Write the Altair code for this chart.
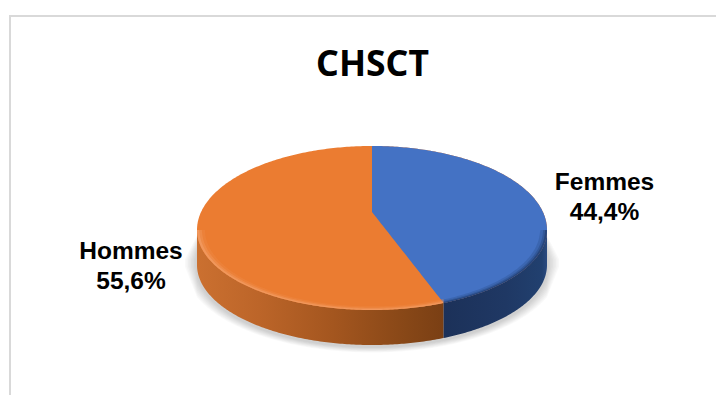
import altair as alt
import numpy as np
import pandas as pd

# ---- chart content
TITLE = "CHSCT"
CATEGORIES = ["Femmes", "Hommes"]
SHARES = [44.4, 55.6]
FILLS = ["#4472C4", "#EB7C31"]

# ---- page layout (pixels inside the plot area)
W, H = 708, 387
CX, CY, RX = 364, 222, 175          # centre of the rim ellipse and its half width
UP, LOW = 84 / RX, 80 / RX          # half heights, the far half being seen larger
DEPTH = 35 / RX
APEX = 18 / RX                      # pie centre appears above the ellipse centre
TILT_DEG = -4                       # perspective shift of the slice boundary

end = np.radians(SHARES[0] * 3.6 + TILT_DEG)
xe, ye = float(np.sin(end)), float(np.cos(end) * LOW)

XS = alt.Scale(domain=[-CX / RX, (W - CX) / RX], nice=False, zero=False)
YS = alt.Scale(domain=[-(H - CY) / RX, CY / RX], nice=False, zero=False)


def samples(a, b, n=240):
    t = np.linspace(np.pi, 0, n + 1)
    xs = np.cos(t)
    xs = xs[(xs >= a - 1e-9) & (xs <= b + 1e-9)]
    return np.unique(np.r_[a, xs, b])


def upper(x, k=1.0):
    return UP * np.sqrt(np.clip(1 - (x / k) ** 2, 0, 1))


def lower(x, k=1.0):
    return -LOW * np.sqrt(np.clip(1 - (x / k) ** 2, 0, 1))


def inner(x, w):
    k = 1 - w / RX
    return lower(x, k) * k + 0 * x


def area(df, fill, **kw):
    return alt.Chart(df).mark_area(orient="vertical", color=fill, **kw).encode(
        x=alt.X("px:Q", scale=XS, axis=None),
        y=alt.Y("top:Q", scale=YS, axis=None),
        y2=alt.Y2("bot:Q"),
    )


def band(x, y, y2, fill, **kw):
    return area(pd.DataFrame({"px": x, "top": y, "bot": y2}), fill, **kw)


def gradient(stops):
    return alt.Gradient(
        gradient="linear", x1=0, x2=1, y1=0, y2=0,
        stops=[alt.GradientStop(offset=o, color=c) for o, c in stops],
    )


layers = []

# soft shadow under the disc
for i in range(8):
    grow = 1 + (i + 1) * 1.5 / RX
    x = samples(-grow, grow)
    layers.append(band(x, -DEPTH + 6 / RX + upper(x, grow) * 0.8, -DEPTH - 2 / RX + lower(x, grow) * grow,
                       "#000000", opacity=0.025))

# side wall
x_o = samples(-1, xe)
x_b = samples(xe, 1)
layers.append(band(x_o, lower(x_o) + 0.03, lower(x_o) - DEPTH,
                   gradient([(0, "#CB7030"), (0.25, "#BC6529"), (0.55, "#A4561F"), (0.85, "#874717"), (1, "#7A3F14")])))
layers.append(band(x_b, lower(x_b) + 0.03, lower(x_b) - DEPTH,
                   gradient([(0, "#1C3159"), (0.6, "#1F3864"), (0.95, "#21406F"), (1, "#2A4A80")])))

# top face: whole ellipse in the larger slice's colour
x_all = samples(-1, 1)
layers.append(band(x_all, upper(x_all), lower(x_all), FILLS[1]))

# top face: the smaller slice, from the apex out to the rim
x_s = samples(0, 1)
edge = np.where(x_s <= xe, APEX + (ye - APEX) * x_s / xe, lower(x_s))
layers.append(band(x_s, upper(x_s), edge, FILLS[0]))

# lit bevel on the orange rim, dark bevel on the blue rim (crescents, so the sides show them too)
for w, c, op in [(8, "#EE8A45", 0.4), (5, "#F2975A", 0.45), (2.5, "#F4A370", 0.5)]:
    layers.append(band(x_o, inner(x_o, w), lower(x_o), c, opacity=op))
for w, c, op in [(7, "#2F5597", 0.4), (4, "#27477F", 0.45), (2, "#1F3864", 0.55)]:
    layers.append(band(x_b, inner(x_b, w), lower(x_b), c, opacity=op))

# frame, open at the right and the bottom
one = pd.DataFrame({"a": [0]})
frame = "#D9D9D9"
layers.append(alt.Chart(one).mark_rule(color=frame, strokeWidth=2).encode(
    x=alt.value(2), y=alt.value(8), y2=alt.value(H)))
layers.append(alt.Chart(one).mark_rule(color=frame, strokeWidth=2).encode(
    x=alt.value(1), x2=alt.value(W), y=alt.value(8)))

# title
layers.append(alt.Chart(one).mark_text(
    text=TITLE, font="Noto Sans", fontWeight="bold", fontSize=35.5, color="#000000",
    align="center", baseline="alphabetic",
).encode(x=alt.value(364.5), y=alt.value(68)))

# data labels, placed in the pie's own units
labels = pd.DataFrame({
    "name": CATEGORIES,
    "pct": [f"{s:.1f}".replace(".", ",") + "%" for s in SHARES],
    "ux": [(596.5 - CX) / RX, (123 - CX) / RX],
    "uy": [(CY - 182) / RX, (CY - 251) / RX],
})
labels["uy2"] = labels["uy"] - 29.5 / RX
font = dict(font="Liberation Sans", fontWeight="bold", fontSize=24.5, color="#000000",
            align="center", baseline="alphabetic")
layers.append(alt.Chart(labels).mark_text(**font).encode(
    x=alt.X("ux:Q", scale=XS, axis=None), y=alt.Y("uy:Q", scale=YS, axis=None), text="name:N"))
layers.append(alt.Chart(labels).mark_text(**font).encode(
    x=alt.X("ux:Q", scale=XS, axis=None), y=alt.Y("uy2:Q", scale=YS, axis=None), text="pct:N"))

chart = alt.layer(*layers).properties(
    width=W, height=H, padding=0, autosize="none", background="#FFFFFF",
).configure_view(stroke=None)

chart.save("out.html", embed_options={"renderer": "svg", "actions": False})
